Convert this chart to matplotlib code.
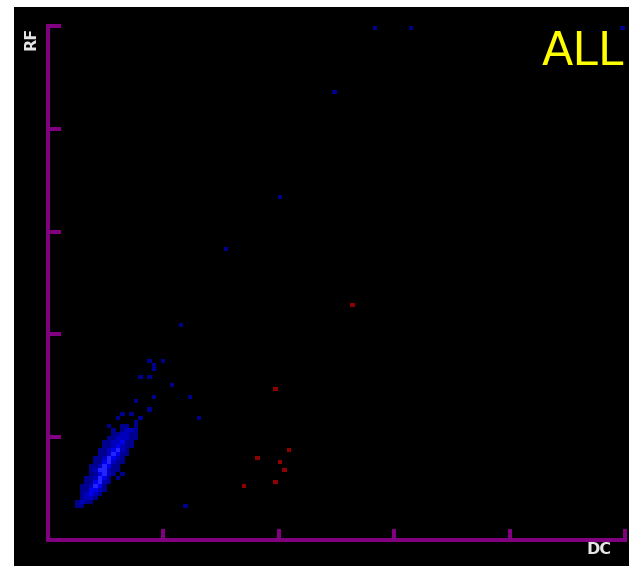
import numpy as np
import matplotlib
matplotlib.use("Agg")
import matplotlib.pyplot as plt
from matplotlib.colors import ListedColormap

# --- Data: 128x128 binned map, DC (x) vs RF (y) ---
NBINS = 128
FIRST_COL = 5          # column of the first character in each cluster row
TOP_ROW = 45           # row of the first string below

# dense region, '.' = empty, 1..4 = blue intensity (count level)
cluster_rows = [
    "",
    ".................1..1",
    "..................1",
    "..................1",
    "",
    "...............1.1",
    "",
    "......................1",
    "",
    "",
    "..................1.......1",
    "..............1",
    "",
    ".................1",
    "...........1.1",
    "..........1....1............1",
    "..............1",
    "........1..11.1",
    ".........1.1221",
    ".........112211",
    "........1122211",
    ".......1122311",
    ".......1123211",
    "......1123421",
    "......1124311",
    ".....1124321",
    ".....1134211",
    "....1124311",
    "....1244211",
    "....113421.1",
    "...112431.1",
    "...113421",
    "..112431",
    "..113321",
    "..12321",
    "..1221",
    ".1211",
    ".11......................1",
]

# isolated blue cells (col, row)
blue_cols = [72, 80, 127, 63, 51, 39, 29]
blue_rows = [127, 127, 127, 111, 85, 72, 53]

# red cells (col, row)
red_cols = [67, 50, 53, 46, 51, 52, 50, 43]
red_rows = [58, 37, 22, 20, 19, 17, 14, 13]

grid = np.zeros((NBINS, NBINS))
for i, line in enumerate(cluster_rows):
    for p, ch in enumerate(line):
        if ch != ".":
            grid[TOP_ROW - i, FIRST_COL + p] = int(ch)
for c, r in zip(blue_cols, blue_rows):
    grid[r, c] = 1
for c, r in zip(red_cols, red_rows):
    grid[r, c] = 5

cmap = ListedColormap(["#00008f", "#0000bc", "#0000ee", "#2424ff", "#8c0000"])
purple = "#800080"

# --- Plot ---
W, H = 629, 566
fig = plt.figure(figsize=(W / 100, H / 100), dpi=100, facecolor="white")

bg = fig.add_axes([14 / W, 0, (W - 14) / W, (H - 7) / H])
bg.set_facecolor("black")
bg.set_xticks([])
bg.set_yticks([])
for s in bg.spines.values():
    s.set_visible(False)

ax = fig.add_axes([48 / W, 26 / H, 577 / W, 514 / H])
ax.patch.set_alpha(0)
edges = np.arange(NBINS + 1)
ax.pcolormesh(edges, edges, np.ma.masked_equal(grid, 0), cmap=cmap,
              vmin=0.5, vmax=5.5, edgecolors="none", antialiased=False)
ax.set_xlim(0, NBINS)
ax.set_ylim(0, NBINS)

for side in ("top", "right"):
    ax.spines[side].set_visible(False)
for side in ("left", "bottom"):
    ax.spines[side].set_color(purple)
    ax.spines[side].set_linewidth(2.9)

ticks = np.linspace(0, NBINS, 6)[1:]
ax.set_xticks(ticks)
ax.set_yticks(ticks)
ax.tick_params(axis="both", direction="in", color=purple, width=2.9,
               labelleft=False, labelbottom=False)
ax.tick_params(axis="x", length=7.9)
ax.tick_params(axis="y", length=9.0)

fig.text(31 / W, 1 - 38 / H, "RF", rotation=90, ha="center", va="center",
         color="#e6e6e6", fontsize=11.5, fontweight="bold")
fig.text(599 / W, 1 - 549 / H, "DC", ha="center", va="center",
         color="#e6e6e6", fontsize=11.5, fontweight="bold")
fig.text(624 / W, 1 - 65 / H, "ALL", ha="right", va="baseline",
         color="yellow", fontsize=33)

fig.savefig("out.png", dpi=100, facecolor="white")
